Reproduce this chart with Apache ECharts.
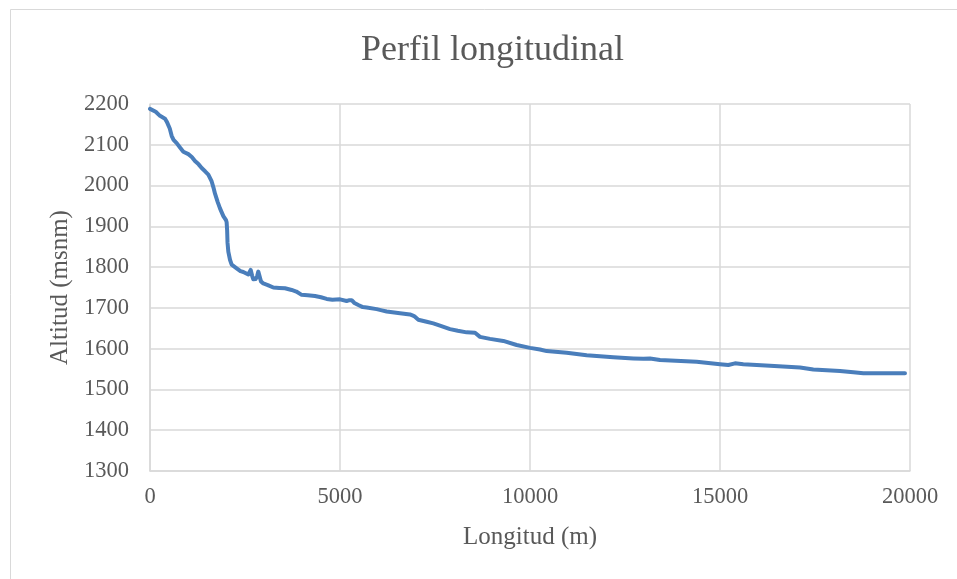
<!DOCTYPE html>
<html>
<head>
<meta charset="utf-8">
<title>Perfil longitudinal</title>
<script src="https://cdn.jsdelivr.net/npm/echarts@6/dist/echarts.min.js"></script>
<style>
  html, body { margin: 0; padding: 0; background: #fff; }
  #perfil { width: 957px; height: 579px; }
</style>
</head>
<body>
<div id="perfil"></div>
<script>
// distancia a lo largo del cauce (m)
var longitud = [
  0, 150, 263, 395, 450, 520, 570, 620, 702, 800,
  877, 1009, 1100, 1184, 1280, 1360, 1450, 1535, 1623, 1670,
  1711, 1780, 1842, 1930, 2000, 2017, 2030, 2040, 2061, 2105,
  2149, 2200, 2280, 2380, 2456, 2587, 2620, 2650, 2690, 2719,
  2780, 2820, 2850, 2880, 2920, 2982, 3100, 3246, 3400, 3553,
  3728, 3850, 3991, 4150, 4342, 4500, 4649, 4800, 5000, 5175,
  5250, 5307, 5380, 5482, 5600, 5702, 5965, 6100, 6228, 6579,
  6842, 6950, 7061, 7280, 7456, 7650, 7895, 8100, 8333, 8553,
  8684, 8947, 9298, 9649, 10000, 10263, 10439, 10965, 11491, 12193,
  12719, 12982, 13158, 13421, 14386, 15000, 15219, 15395, 15614, 16316,
  17105, 17456, 18158, 18509, 18772, 19868
]
// altitud (msnm)
var altitud = [
  2188, 2181, 2171, 2164, 2155, 2140, 2122, 2112, 2104, 2092,
  2083, 2077, 2070, 2060, 2052, 2043, 2035, 2027, 2010, 1995,
  1980, 1960, 1944, 1925, 1915, 1910, 1890, 1860, 1838, 1818,
  1806, 1802, 1797, 1790, 1788, 1782, 1784, 1793, 1778, 1770,
  1771, 1778, 1789, 1785, 1765, 1760, 1756, 1750, 1749, 1748,
  1744, 1740, 1732, 1731, 1729, 1726, 1722, 1720, 1721, 1717,
  1719, 1719, 1712, 1707, 1702, 1701, 1697, 1694, 1691, 1687,
  1684, 1680, 1671, 1666, 1662, 1656, 1648, 1644, 1640, 1639,
  1629, 1624, 1619, 1609, 1602, 1598, 1594, 1590, 1584, 1579,
  1576, 1575, 1576, 1572, 1568, 1562, 1560, 1564, 1562, 1558,
  1554, 1549, 1545, 1542, 1540, 1540
]
var xTicks = [0, 5000, 10000, 15000, 20000]
var yTicks = [1300, 1400, 1500, 1600, 1700, 1800, 1900, 2000, 2100, 2200]

var puntos = longitud.map(function(d, i) { return [d, altitud[i]] })

var serif = 'Liberation Serif'
var gris = '#595959'
var lineaGrid = '#d9d9d9'

// sin separador de miles, como en el original
function sinMiles(v) { return String(v) }

var chart = echarts.init(document.getElementById('perfil'))
chart.setOption({
  animation: false,
  backgroundColor: '#fff',
  title: {
    text: 'Perfil longitudinal',
    left: 356,
    top: 28,
    textStyle: { fontFamily: serif, fontSize: 36, fontWeight: 'normal', color: gris }
  },
  graphic: [{
    type: 'rect',
    left: 8,
    top: 7,
    shape: { width: 1000, height: 1000 },
    style: { fill: 'none', stroke: lineaGrid, lineWidth: 1 },
    silent: true
  }],
  grid: { left: 150, right: 47, top: 104, bottom: 108 },
  xAxis: {
    type: 'value',
    min: xTicks[0],
    max: xTicks[xTicks.length - 1],
    interval: 5000,
    name: 'Longitud (m)',
    nameLocation: 'middle',
    nameGap: 54,
    nameTextStyle: { fontFamily: serif, fontSize: 25, color: gris },
    axisLine: { show: true, lineStyle: { color: lineaGrid, width: 1.5 } },
    axisTick: { show: false },
    axisLabel: { margin: 15, fontFamily: serif, fontSize: 22.5, color: gris, formatter: sinMiles },
    splitLine: { show: true, lineStyle: { color: lineaGrid, width: 1.5 } }
  },
  yAxis: {
    type: 'value',
    min: yTicks[0],
    max: yTicks[yTicks.length - 1],
    interval: 100,
    name: 'Altitud (msnm)',
    nameLocation: 'middle',
    nameGap: 70,
    nameTextStyle: { fontFamily: serif, fontSize: 25, color: gris },
    axisLine: { show: true, lineStyle: { color: lineaGrid, width: 1.5 } },
    axisTick: { show: false },
    axisLabel: { margin: 21, fontFamily: serif, fontSize: 22.5, color: gris, formatter: sinMiles },
    splitLine: { show: true, lineStyle: { color: lineaGrid, width: 1.5 } }
  },
  series: [{
    name: 'Perfil',
    type: 'line',
    data: puntos,
    showSymbol: false,
    smooth: false,
    lineStyle: { color: '#4a7ebb', width: 4, cap: 'round', join: 'round' },
    z: 5
  }]
})
</script>
</body>
</html>
